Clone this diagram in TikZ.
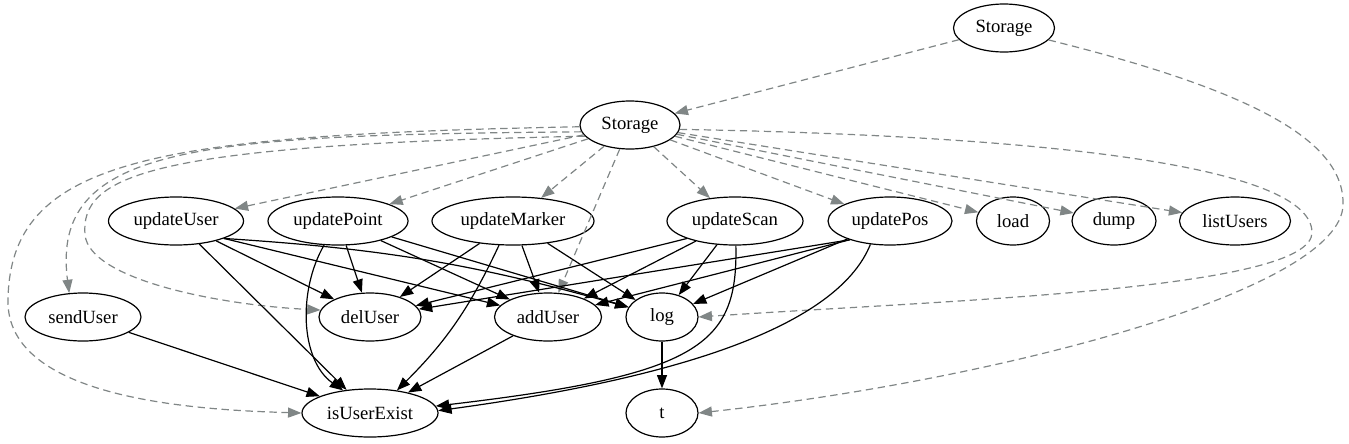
\documentclass[tikz,border=0pt]{standalone}
\usepackage{fontspec}
\setmainfont{Liberation Serif}
\usetikzlibrary{arrows.meta,shapes.geometric}
\definecolor{storegray}{RGB}{128,134,134}

\begin{document}
\begin{tikzpicture}[x=0.75pt,y=0.75pt,
  func/.style={ellipse,draw,line width=0.9pt,minimum height=36pt,inner sep=0pt,
    font=\fontsize{14}{16}\selectfont},
  wd/.style={minimum width=#1*0.75pt},
  calls/.style={-{Triangle[length=10pt,width=7.5pt]},line width=0.9pt},
  uses/.style={-{Triangle[length=10pt,width=7.5pt]},storegray,line width=0.9pt,
    dash pattern=on 5.5pt off 3.5pt}]
\useasboundingbox (0,0) rectangle (1349,-443);
% węzły: dwa poziomy Storage, funkcje i pomocnicze
\node[func,wd=101] (st1) at (1004,-28) {Storage};
\node[func,wd=100] (st2) at (630,-125) {Storage};
\node[func,wd=135] (updUser) at (176,-221) {updateUser};
\node[func,wd=140] (updPoint) at (338,-221) {updatePoint};
\node[func,wd=162] (updMarker) at (513,-221) {updateMarker};
\node[func,wd=136] (updScan) at (735,-221) {updateScan};
\node[func,wd=124] (updPos) at (890,-221) {updatePos};
\node[func,wd=73] (load) at (1013,-221) {load};
\node[func,wd=84] (dump) at (1114,-221) {dump};
\node[func,wd=111] (listUsers) at (1235,-221) {listUsers};
\node[func,wd=116] (sendUser) at (83,-317) {sendUser};
\node[func,wd=102] (delUser) at (370,-317) {delUser};
\node[func,wd=107] (addUser) at (548,-317) {addUser};
\node[func,wd=72] (log) at (662,-317) {log};
\node[func,wd=136] (isUserExist) at (370,-413) {isUserExist};
\node[func,wd=72] (t) at (662,-413) {t};
% --- przerywane: Storage ---
\draw[uses] (st1) -- (st2);
\foreach \n in {updUser,updPoint,updMarker,updScan,updPos,load,dump,listUsers,addUser}
  \draw[uses] (st2) -- (\n);
\draw[uses] (st2.182) .. controls (150,-135) and (10,-160) .. (8,-300)
  .. controls (6,-400) and (200,-410) .. (isUserExist.west);
\draw[uses] (st2.188) .. controls (200,-135) and (50,-145) .. (sendUser.120);
\draw[uses] (st2.194) .. controls (150,-145) and (80,-175) .. (85,-235)
  .. controls (90,-280) and (220,-305) .. (delUser.172);
\draw[uses] (st2.-5) .. controls (1000,-135) and (1310,-160) .. (1312,-232)
  .. controls (1314,-290) and (950,-300) .. (log.east);
\draw[uses] (st1.-15) .. controls (1250,-90) and (1345,-140) .. (1343,-205)
  .. controls (1341,-290) and (1000,-380) .. (t.east);
% --- wywołania ---
\draw[calls] (updUser) -- (isUserExist);
\draw[calls] (updUser) -- (delUser);
\draw[calls] (updUser.-20) -- (addUser);
\draw[calls] (updUser.-20) to[bend left=6] (log);
\draw[calls] (updPoint) -- (delUser);
\draw[calls] (updPoint) -- (addUser);
\draw[calls] (updPoint) -- (log);
\draw[calls] (updPoint.240) .. controls (298,-290) and (300,-360) .. (isUserExist.140);
\draw[calls] (updMarker) -- (delUser);
\draw[calls] (updMarker) -- (addUser);
\draw[calls] (updMarker) -- (log);
\draw[calls] (updMarker.240) to[bend left=10] (isUserExist.40);
\draw[calls] (updScan.200) -- (delUser);
\draw[calls] (updScan) -- (addUser);
\draw[calls] (updScan) -- (log);
\draw[calls] (updScan.-88) .. controls (738,-345) and (700,-375) .. (isUserExist.6);
\draw[calls] (updPos.205) -- (delUser);
\draw[calls] (updPos.205) -- (addUser);
\draw[calls] (updPos) -- (log);
\draw[calls] (updPos.230) .. controls (840,-320) and (700,-375) .. (isUserExist.2);
\draw[calls] (sendUser) -- (isUserExist);
\draw[calls] (addUser) -- (isUserExist);
\draw[calls] (log) -- (t);
\end{tikzpicture}
\end{document}
